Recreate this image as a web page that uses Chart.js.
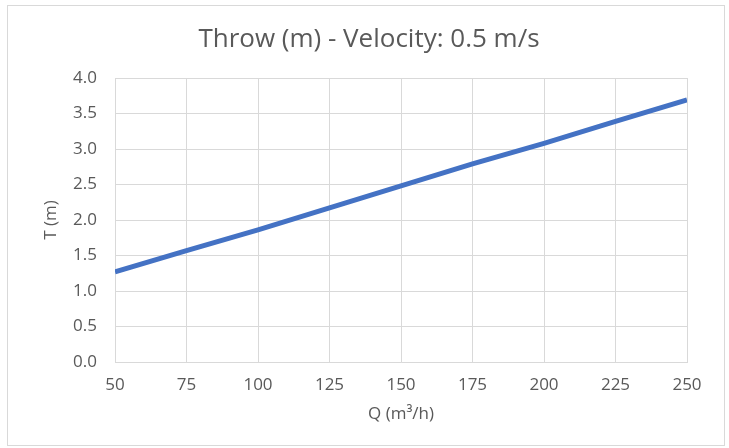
<!DOCTYPE html>
<html>
<head>
<meta charset="utf-8">
<script src="https://cdn.jsdelivr.net/npm/chart.js@4"></script>
<style>
  body { margin: 0; background: #fff; }
  #wrap { position: relative; width: 729px; height: 448px; }
  #frame { position: absolute; left: 7px; top: 5px; width: 718px; height: 441px; border: 1px solid #d9d9d9; box-sizing: border-box; }
  #chart { position: absolute; left: 0; top: 0; }
</style>
</head>
<body>
<div id="wrap">
  <div id="frame"></div>
  <canvas id="chart" width="729" height="448"></canvas>
</div>
<script>
// flow rate (m3/h) and throw (m)
var flow = [50, 75, 100, 125, 150, 175, 200, 225, 250];
var throwM = [1.27, 1.57, 1.86, 2.17, 2.48, 2.79, 3.08, 3.39, 3.69];
var chartTitle = 'Throw (m) - Velocity: 0.5 m/s';
var xTitle = 'Q (m³/h)';
var yTitle = 'T (m)';

var points = [];
for (var i = 0; i < flow.length; i++) {
  points.push({ x: flow[i], y: throwM[i] });
}

var font = '"Open Sans", Lato, sans-serif';
var grey = '#595959';
var gridCol = '#d9d9d9';

var ctx = document.getElementById('chart').getContext('2d');
var myChart = new Chart(ctx, {
  type: 'line',
  data: {
    datasets: [{
      label: 'Throw',
      data: points,
      borderColor: '#4472C4',
      borderWidth: 5,
      pointRadius: 0,
      tension: 0,
      fill: false
    }]
  },
  options: {
    responsive: false,
    animation: false,
    layout: { padding: { left: 9, right: 0, top: 0, bottom: 0 } },
    plugins: {
      legend: { display: false },
      tooltip: { enabled: false },
      title: {
        display: true,
        text: chartTitle,
        color: grey,
        font: { family: font, size: 26, weight: 'normal', lineHeight: 1.2 },
        padding: { top: 24.4, bottom: 22.4 }
      }
    },
    scales: {
      x: {
        type: 'linear',
        min: 50,
        max: 250,
        ticks: {
          stepSize: 25,
          color: grey,
          font: { family: font, size: 17 },
          padding: 13,
          maxRotation: 0
        },
        grid: { color: gridCol, lineWidth: 1, drawTicks: false },
        border: { color: gridCol },
        title: {
          display: true,
          text: xTitle,
          color: grey,
          font: { family: font, size: 17 },
          padding: { top: 0, bottom: 24 }
        },
        afterFit: function(scale) { scale.height = 86; }
      },
      y: {
        min: 0,
        max: 4,
        ticks: {
          stepSize: 0.5,
          color: grey,
          font: { family: font, size: 17 },
          padding: 18,
          callback: function(v) { return v.toFixed(1); }
        },
        grid: { color: gridCol, lineWidth: 1, drawTicks: false },
        border: { color: gridCol },
        title: {
          display: true,
          text: yTitle,
          color: grey,
          font: { family: font, size: 17 },
          padding: { top: 32, bottom: 0 }
        },
        afterFit: function(scale) { scale.width = 106; }
      },
      y2: {
        position: 'right',
        min: 0,
        max: 4,
        ticks: { display: false },
        grid: { display: false, drawTicks: false },
        border: { display: false },
        afterFit: function(scale) { scale.width = 42; }
      }
    }
  }
});
</script>
</body>
</html>
